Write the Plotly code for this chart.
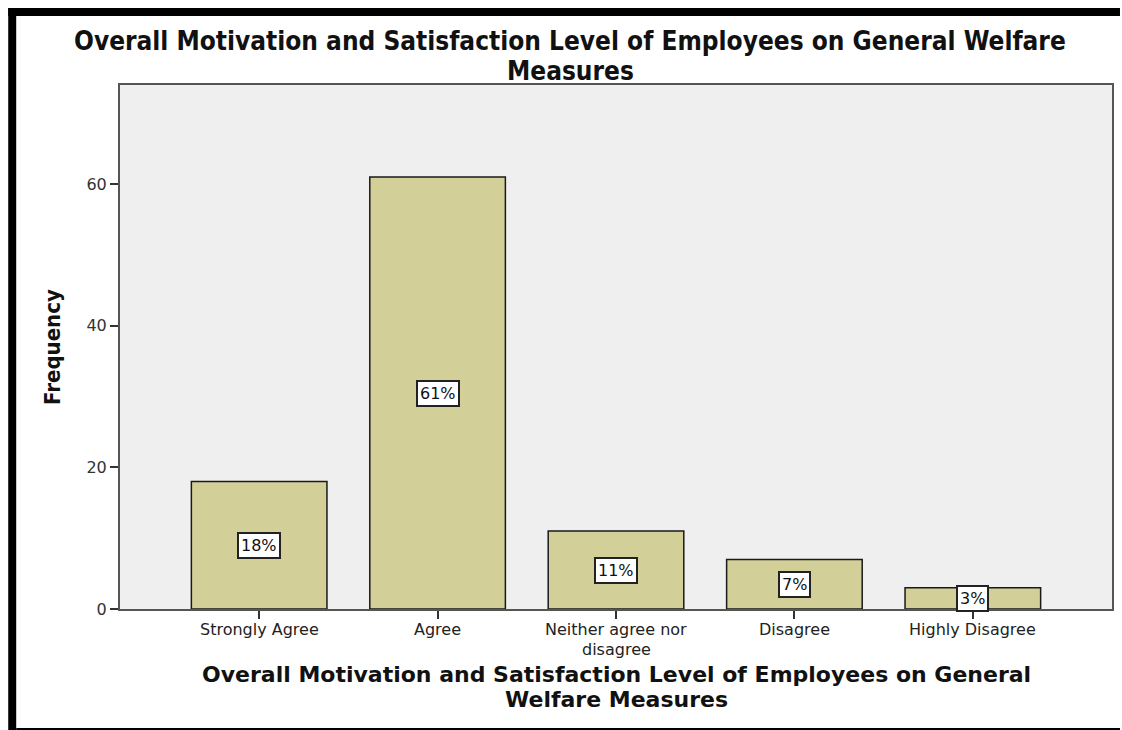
import plotly.graph_objects as go

categories = ["Strongly Agree", "Agree", "Neither agree nor disagree", "Disagree", "Highly Disagree"]
tick_lines = [["Strongly Agree"], ["Agree"], ["Neither agree nor", "disagree"], ["Disagree"], ["Highly Disagree"]]
frequency = [18, 61, 11, 7, 3]
percent_labels = ["18%", "61%", "11%", "7%", "3%"]
y_ticks = [0, 20, 40, 60]

title_lines = ["Overall Motivation and Satisfaction Level of Employees on General Welfare", "Measures"]
xtitle_lines = ["Overall Motivation and Satisfaction Level of Employees on General", "Welfare Measures"]

W, H = 1122, 730
L, R, T, B = 120, 1114, 85, 609  # plot area in pixels


def px(x):
    return (x - L) / (R - L)


def py(y):
    return (B - y) / (B - T)


COND = "DejaVu Sans Condensed, DejaVu Sans"

fig = go.Figure()
fig.add_trace(go.Bar(
    x=list(range(len(categories))),
    y=frequency,
    width=0.76,
    marker=dict(color="#d3cf98", line=dict(color="#1a1a1a", width=1.5)),
    hoverinfo="skip",
))

# percentage boxes in the middle of each bar
for i, (v, lab) in enumerate(zip(frequency, percent_labels)):
    fig.add_annotation(
        x=i, y=v / 2, text=lab, showarrow=False,
        font=dict(family="DejaVu Sans", size=16, color="#111111"),
        bgcolor="white", bordercolor="#222222", borderwidth=2, borderpad=2,
    )

# category labels under the ticks
for i, lines in enumerate(tick_lines):
    for k, line in enumerate(lines):
        fig.add_annotation(
            x=i, xref="x", y=py(629 + 20 * k), yref="paper", text=line, showarrow=False,
            font=dict(family="DejaVu Sans", size=16, color="#222222"),
            xanchor="center", yanchor="middle",
        )

# chart title
for k, line in enumerate(title_lines):
    fig.add_annotation(
        x=px(571), y=py(41 + 30 * k), xref="paper", yref="paper", text="<b>" + line + "</b>",
        showarrow=False, xanchor="center", yanchor="middle",
        font=dict(family=COND, size=26, color="#111111"),
    )

# x-axis title
for k, line in enumerate(xtitle_lines):
    fig.add_annotation(
        x=px(617), y=py(674 + 25 * k), xref="paper", yref="paper", text="<b>" + line + "</b>",
        showarrow=False, xanchor="center", yanchor="middle",
        font=dict(family="DejaVu Sans", size=22, color="#111111"),
    )

# outer frame of the figure
frame = [
    dict(x0=px(8), x1=px(1122), y0=py(8), y1=py(16)),
    dict(x0=px(8), x1=px(16), y0=py(8), y1=py(730)),
    dict(x0=px(16), x1=px(1122), y0=py(728), y1=py(730)),
]
for f in frame:
    fig.add_shape(type="rect", xref="paper", yref="paper", line=dict(width=0),
                  fillcolor="black", layer="above", **f)

fig.update_layout(
    width=W, height=H,
    margin=dict(l=L, r=W - R, t=T, b=H - B, pad=0),
    paper_bgcolor="white",
    plot_bgcolor="#efefef",
    showlegend=False,
    xaxis=dict(
        range=[-0.78, 4.78],
        tickmode="array", tickvals=list(range(len(categories))), ticktext=[""] * len(categories),
        ticks="outside", ticklen=8, tickwidth=1.5, tickcolor="#333333",
        showline=True, linecolor="#555555", linewidth=2, mirror=True,
        showgrid=False, zeroline=False,
    ),
    yaxis=dict(
        range=[0, 74],
        tickmode="array", tickvals=y_ticks,
        ticks="outside", ticklen=8, tickwidth=1.5, tickcolor="#333333",
        tickfont=dict(family="DejaVu Sans", size=16, color="#333333"),
        showline=True, linecolor="#555555", linewidth=2, mirror=True,
        showgrid=False, zeroline=False,
        title=dict(
            text="<b>Frequency</b>",
            font=dict(family=COND, size=22, color="#111111"),
            standoff=20,
        ),
    ),
)

fig.write_html("out.html")
